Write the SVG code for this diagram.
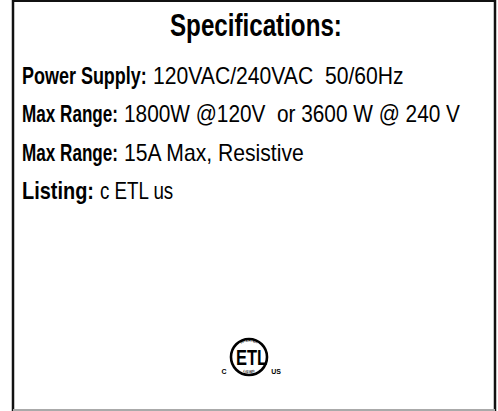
<svg xmlns="http://www.w3.org/2000/svg" xmlns:xlink="http://www.w3.org/1999/xlink" width="498" height="411" viewBox="0 0 498 411">
<style>
text{white-space:pre}
.t{font-family:"Liberation Sans",Arial,sans-serif;font-size:23px;fill:#000}
.b{font-weight:bold}
.title{font-family:"Liberation Sans",Arial,sans-serif;font-size:31px;font-weight:bold;fill:#000}
.tiny{font-family:"Liberation Sans",Arial,sans-serif;font-size:3.4px;font-weight:bold;fill:#000}
.cu{font-family:"Liberation Sans",Arial,sans-serif;font-size:7px;font-weight:bold;fill:#000}
</style>
<defs>
<path id="arcTop" d="M233.5,357 A15.5,15.5 0 0 1 264.5,357"/>
<path id="arcBot" d="M235,359 A14,14 0 0 0 263,359"/>
</defs>
<rect x="0" y="0" width="498" height="411" fill="#fff"/>
<g id="frame">
<line x1="13" y1="0" x2="13" y2="411" stroke="#111" stroke-width="2.5"/>
<line x1="495" y1="0" x2="495" y2="411" stroke="#111" stroke-width="2.5"/>
<line x1="13" y1="1" x2="495" y2="1" stroke="#111" stroke-width="2"/>
<line x1="13" y1="410" x2="495" y2="410" stroke="#aaa" stroke-width="2"/>
</g>
<g id="title"><text class="title" transform="translate(170,36) scale(0.78,1)">Specifications:</text></g>
<g id="specs">
<text class="t b" transform="translate(22,84) scale(0.782,1)">Power Supply:</text>
<text class="t" transform="translate(153,84) scale(0.92,1)">120VAC/240VAC  50/60Hz</text>
<text class="t b" transform="translate(22,122) scale(0.744,1)">Max Range:</text>
<text class="t" transform="translate(124,122) scale(0.905,1)">1800W @120V  or 3600 W @ 240 V</text>
<text class="t b" transform="translate(22,161) scale(0.744,1)">Max Range:</text>
<text class="t" transform="translate(124,161) scale(0.92,1)">15A Max, Resistive</text>
<text class="t b" transform="translate(22,199) scale(0.867,1)">Listing:</text>
<text class="t" transform="translate(100,199) scale(0.815,1)">c ETL us</text>
</g>
<g id="etl-logo">
<circle cx="249" cy="357" r="18" fill="none" stroke="#000" stroke-width="2.6"/>
<text transform="translate(236,365) scale(0.75,1)" font-family="Liberation Sans,Arial,sans-serif" font-weight="bold" font-size="22" fill="#000">ETL</text>
<text class="tiny"><textPath xlink:href="#arcTop" startOffset="50%" text-anchor="middle">INTERTEK</textPath></text>
<text class="tiny"><textPath xlink:href="#arcBot" startOffset="50%" text-anchor="middle">LISTED</textPath></text>
<text class="cu" x="224" y="374" text-anchor="middle">C</text>
<text class="cu" x="276" y="374" text-anchor="middle">US</text>
</g>
</svg>
